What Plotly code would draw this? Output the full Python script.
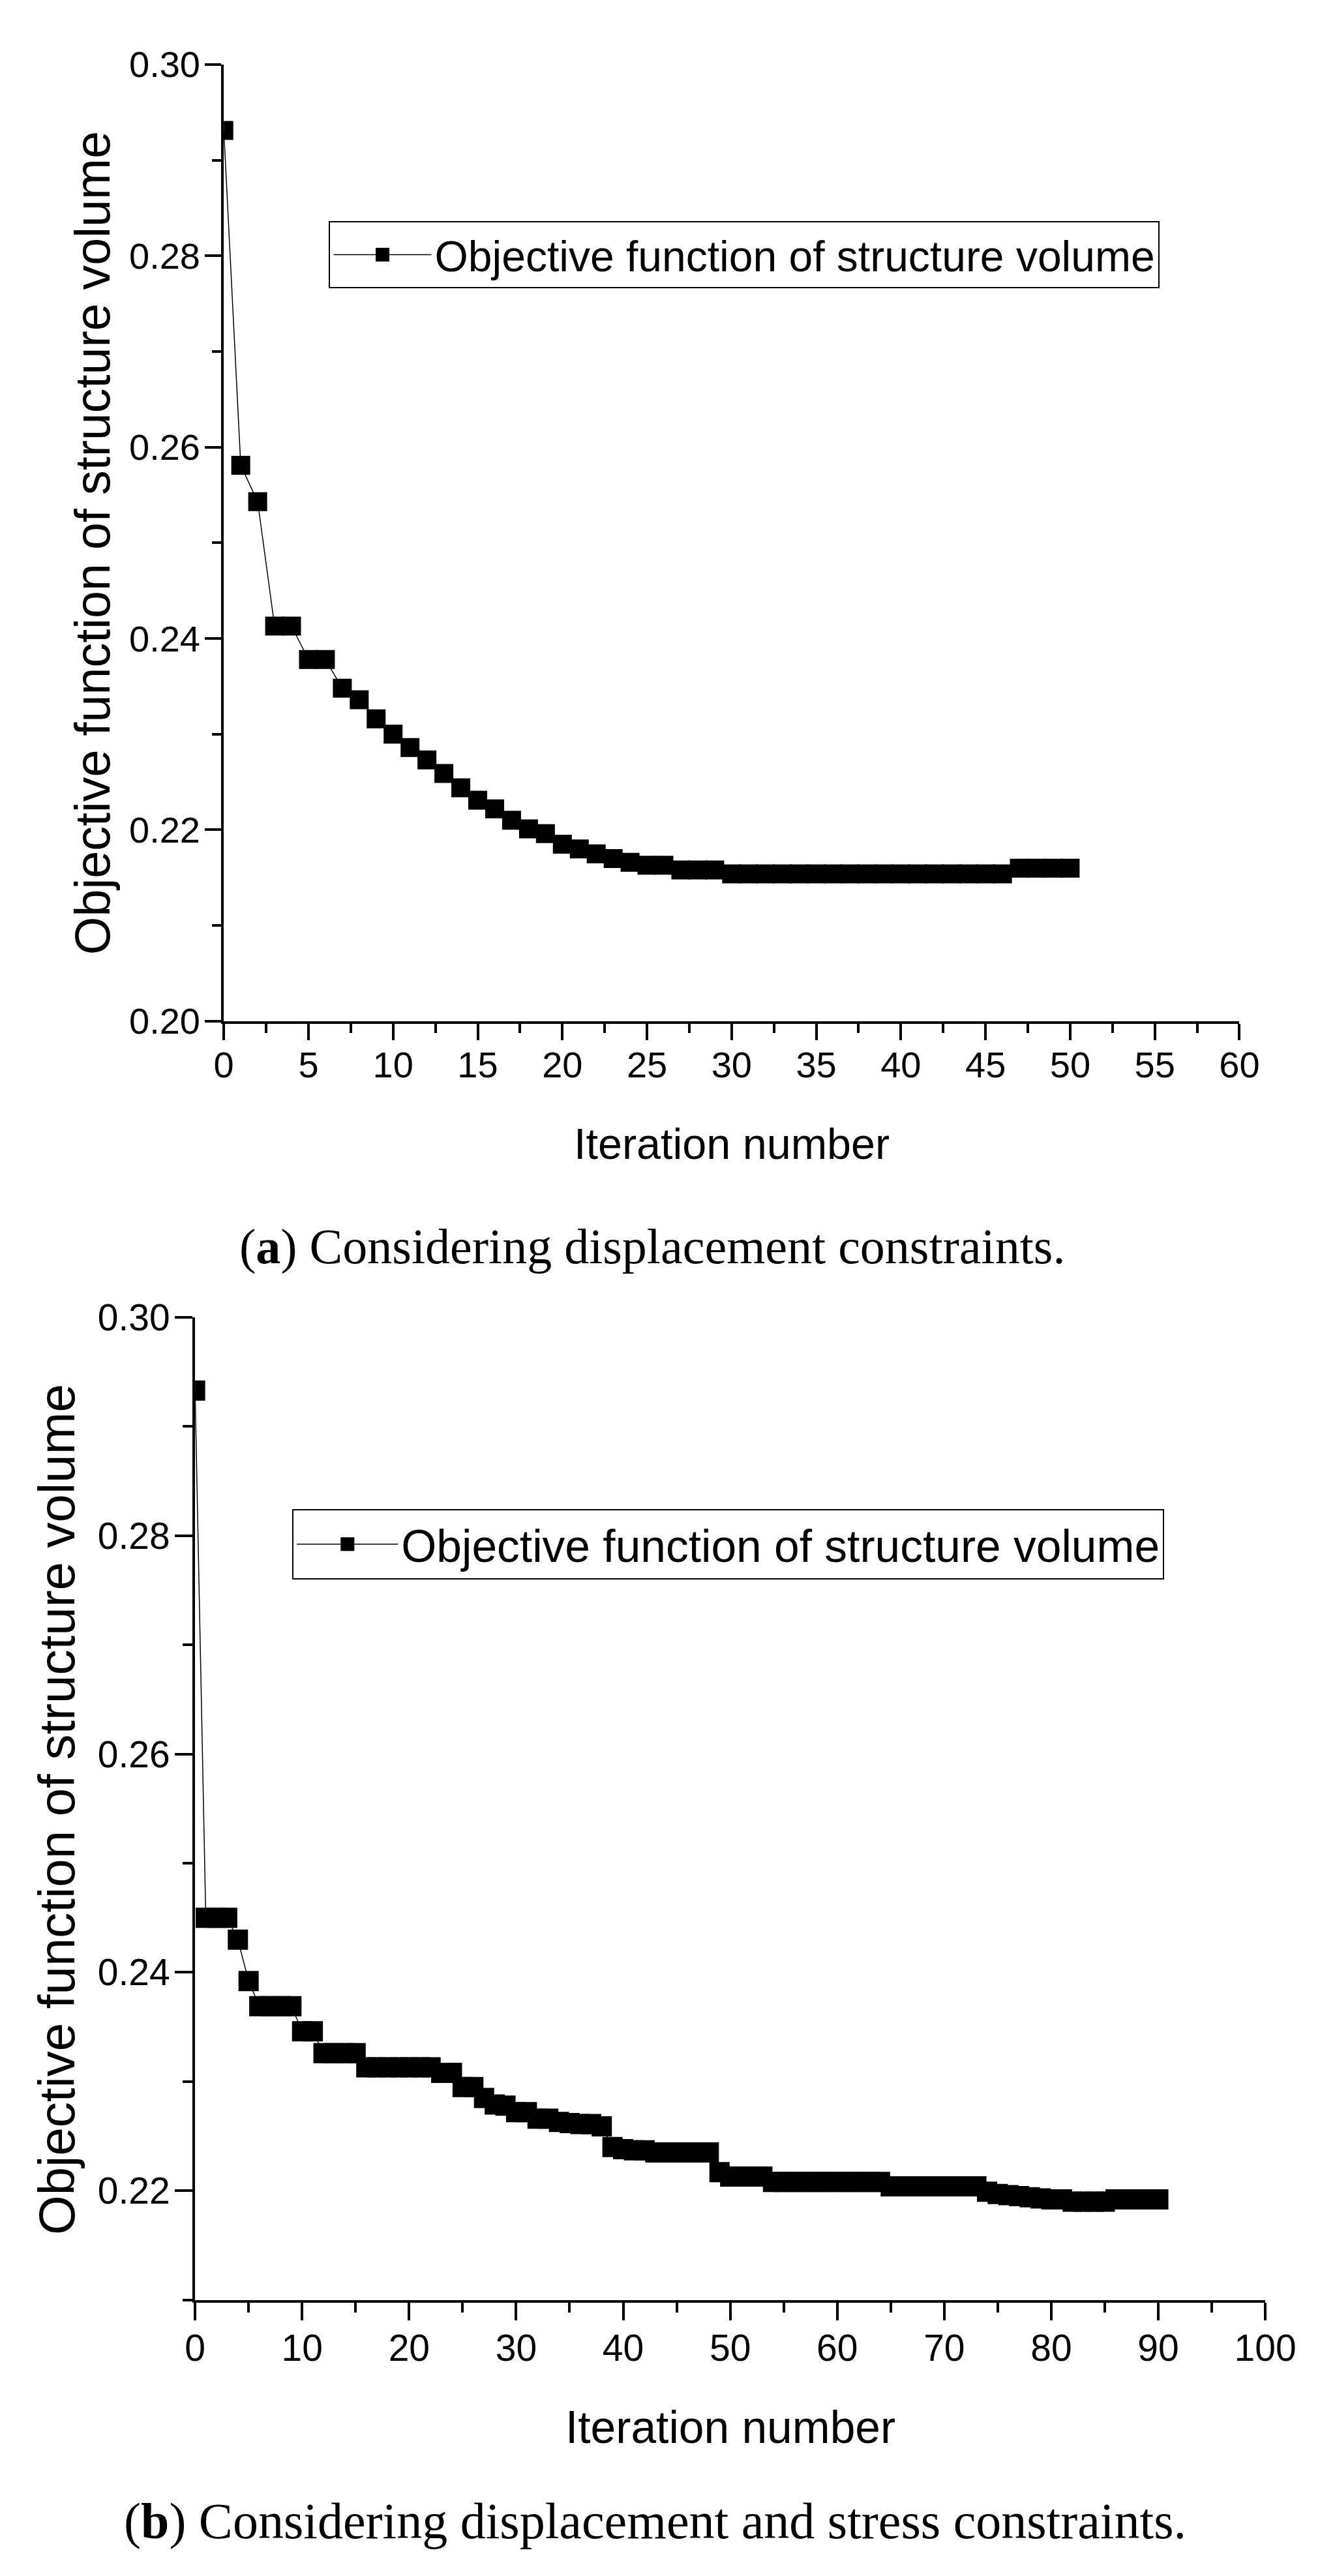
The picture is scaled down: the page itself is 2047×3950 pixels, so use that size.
import plotly.graph_objects as go

# ---------------- data: panel (a) ----------------
iter_a = list(range(51))
vol_a = [0.2931, 0.2581, 0.2543, 0.2413, 0.2413, 0.2378, 0.2378, 0.2348, 0.2336, 0.2316,
         0.2300, 0.2286, 0.2273, 0.2259, 0.2244, 0.2231, 0.2222, 0.2210, 0.2201, 0.2196,
         0.2185, 0.2180, 0.2175, 0.2170, 0.2166, 0.2163, 0.2163, 0.2158, 0.2158, 0.2158,
         0.2154, 0.2154, 0.2154, 0.2154, 0.2154, 0.2154, 0.2154, 0.2154, 0.2154, 0.2154,
         0.2154, 0.2154, 0.2154, 0.2154, 0.2154, 0.2154, 0.2154, 0.2160, 0.2160, 0.2160,
         0.2160]

# ---------------- data: panel (b) ----------------
iter_b = list(range(91))
vol_b = [0.2933, 0.2450, 0.2450, 0.2450, 0.2430, 0.2392, 0.2369, 0.2369, 0.2369, 0.2369,
         0.2346, 0.2346, 0.2326, 0.2326, 0.2326, 0.2326, 0.2313, 0.2313, 0.2313, 0.2313,
         0.2313, 0.2313, 0.2313, 0.2308, 0.2308, 0.2295, 0.2295, 0.2285, 0.2279, 0.2278,
         0.2272, 0.2272, 0.2266, 0.2266, 0.2263, 0.2262, 0.2261, 0.2261, 0.2259, 0.2240,
         0.2238, 0.2237, 0.2237, 0.2235, 0.2235, 0.2235, 0.2235, 0.2235, 0.2235, 0.2217,
         0.2213, 0.2213, 0.2213, 0.2213, 0.2208, 0.2208, 0.2208, 0.2208, 0.2208, 0.2208,
         0.2208, 0.2208, 0.2208, 0.2208, 0.2208, 0.2204, 0.2204, 0.2204, 0.2204, 0.2204,
         0.2204, 0.2204, 0.2204, 0.2204, 0.2199, 0.2197, 0.2196, 0.2195, 0.2194, 0.2193,
         0.2192, 0.2192, 0.2190, 0.2190, 0.2190, 0.2190, 0.2192, 0.2192, 0.2192, 0.2192,
         0.2192]

series_name = "Objective function of structure volume"
x_title = "Iteration number"
y_title = "Objective function of structure volume"
caption_a = "(<b>a</b>) Considering displacement constraints."
caption_b = "(<b>b</b>) Considering displacement and stress constraints."

W, H = 2047, 3950
SANS = "Liberation Sans, Arial, sans-serif"
SERIF = "Liberation Serif, Times New Roman, serif"


def px(x):
    return x / W


def py(y):
    return 1 - y / H


fig = go.Figure()

fig.add_trace(go.Scatter(
    x=iter_a, y=vol_a, mode="lines+markers", name=series_name,
    line=dict(color="black", width=1.5),
    marker=dict(symbol="square", size=24, color="black", line=dict(color="black", width=5)),
    xaxis="x", yaxis="y", legend="legend",
))
fig.add_trace(go.Scatter(
    x=iter_b, y=vol_b, mode="lines+markers", name=series_name,
    line=dict(color="black", width=1.5),
    marker=dict(symbol="square", size=26, color="black", line=dict(color="black", width=5)),
    xaxis="x2", yaxis="y2", legend="legend2",
))

axis_common = dict(
    showline=True, linecolor="black", linewidth=4, mirror=False,
    showgrid=False, zeroline=False, ticks="outside", tickcolor="black",
    tickwidth=4, color="black",
)

fig.update_layout(
    width=W, height=H, margin=dict(l=0, r=0, t=0, b=0),
    paper_bgcolor="white", plot_bgcolor="white", showlegend=True,
    xaxis=dict(domain=[px(329.5), px(1937)], range=[0, 60], anchor="y",
               tickmode="linear", tick0=0, dtick=5, ticklen=25,
               minor=dict(dtick=2.5, ticklen=14, tickwidth=4, ticks="outside", tickcolor="black"),
               tickfont=dict(family=SANS, size=56, color="black"), ticklabelstandoff=-10,
               **axis_common),
    yaxis=dict(domain=[py(1551), py(59.8)], range=[0.20, 0.30], anchor="x",
               tickmode="linear", tick0=0.20, dtick=0.02, tickformat=".2f", ticklen=25,
               minor=dict(dtick=0.01, ticklen=14, tickwidth=4, ticks="outside", tickcolor="black"),
               tickfont=dict(family=SANS, size=56, color="black"), ticklabelstandoff=-4,
               **axis_common),
    xaxis2=dict(domain=[px(284), px(1978)], range=[0, 100], anchor="y2",
                tickmode="linear", tick0=0, dtick=10, ticklen=27,
                minor=dict(dtick=5, ticklen=15, tickwidth=4, ticks="outside", tickcolor="black"),
                tickfont=dict(family=SANS, size=57, color="black"), ticklabelstandoff=-6,
                **axis_common),
    yaxis2=dict(domain=[py(3544), py(2012.7)], range=[0.21, 0.30], anchor="x2",
                tickmode="linear", tick0=0.20, dtick=0.02, tickformat=".2f", ticklen=27,
                minor=dict(dtick=0.01, ticklen=15, tickwidth=4, ticks="outside", tickcolor="black"),
                tickfont=dict(family=SANS, size=57, color="black"), ticklabelstandoff=-4,
                **axis_common),
    legend=dict(x=px(496), y=py(304), xanchor="left", yanchor="top",
                bgcolor="white", bordercolor="black", borderwidth=2,
                font=dict(family=SANS, size=66, color="black"), itemwidth=150),
    legend2=dict(x=px(438), y=py(2311.5), xanchor="left", yanchor="top",
                 bgcolor="white", bordercolor="black", borderwidth=2,
                 font=dict(family=SANS, size=69.5, color="black"), itemwidth=155),
)

ann = [
    dict(text=y_title, x=px(122), y=py(806), textangle=-90,
         font=dict(family=SANS, size=75.5, color="black")),
    dict(text=y_title, x=px(65), y=py(2779), textangle=-90,
         font=dict(family=SANS, size=78, color="black")),
    dict(text=x_title, x=px(1133), y=py(1742),
         font=dict(family=SANS, size=66.5, color="black")),
    dict(text=x_title, x=px(1131), y=py(3743),
         font=dict(family=SANS, size=69.5, color="black")),
    dict(text=caption_a, x=px(1008), y=py(1902),
         font=dict(family=SERIF, size=76, color="black")),
    dict(text=caption_b, x=px(1012), y=py(3889),
         font=dict(family=SERIF, size=78, color="black")),
]
for a in ann:
    fig.add_annotation(xref="paper", yref="paper", showarrow=False,
                       xanchor="center", yanchor="middle", **a)

fig.write_html("out.html")
